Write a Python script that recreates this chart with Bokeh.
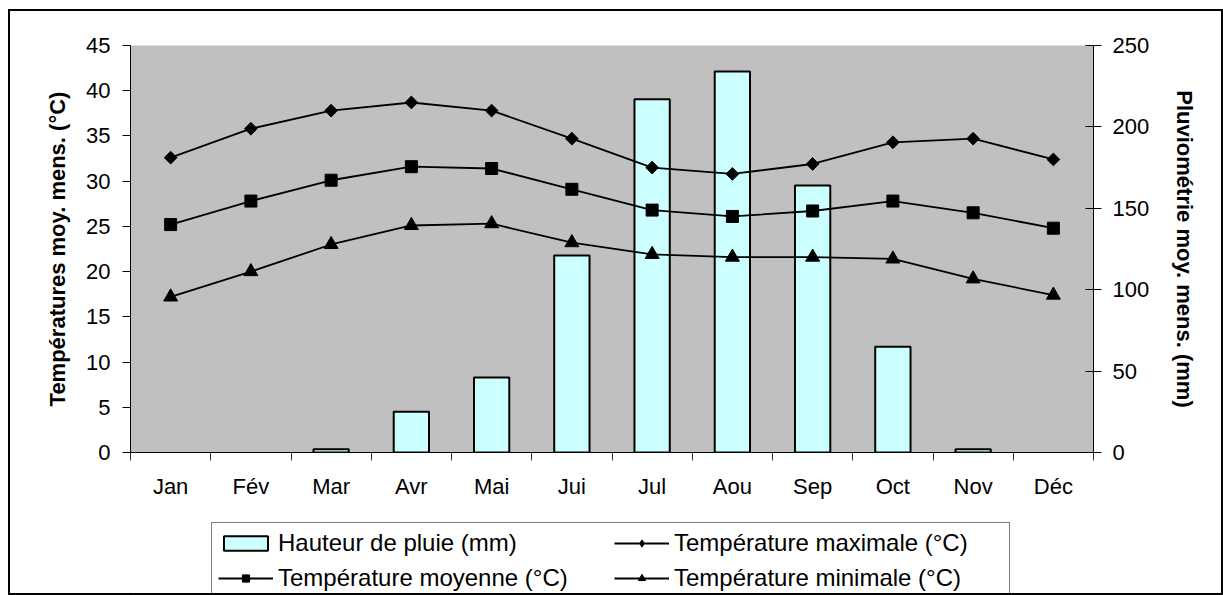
import numpy as np
from bokeh.plotting import figure
from bokeh.layouts import column
from bokeh.models import Range1d, LinearAxis, FixedTicker, Legend, LegendItem
from bokeh.embed import file_html
from bokeh.resources import INLINE

# ---- data ----
months = ["Jan", "Fév", "Mar", "Avr", "Mai", "Jui", "Jul", "Aou", "Sep", "Oct", "Nov", "Déc"]
rain = [0, 0, 2, 25, 46, 121, 217, 234, 164, 65, 2, 0]
tmax = [32.6, 35.8, 37.8, 38.7, 37.8, 34.7, 31.5, 30.8, 31.9, 34.3, 34.7, 32.4]
tmoy = [25.2, 27.8, 30.1, 31.6, 31.4, 29.1, 26.8, 26.1, 26.7, 27.8, 26.5, 24.8]
tmin = [17.2, 20.0, 23.0, 25.1, 25.3, 23.2, 21.9, 21.6, 21.6, 21.4, 19.2, 17.4]
temp_ticks = [0, 5, 10, 15, 20, 25, 30, 35, 40, 45]
rain_ticks = [0, 50, 100, 150, 200, 250]
labels = ["Hauteur de pluie (mm)", "Température moyenne (°C)",
          "Température maximale (°C)", "Température minimale (°C)"]

xs = [i + 0.5 for i in range(len(months))]
bx = [x for x, r in zip(xs, rain) if r > 0]
br = [r for r in rain if r > 0]
FONT = "Liberation Sans"

BAR = dict(fill_color="#CCFFFF", line_color="black", line_width=2)
LINE = dict(line_color="black", line_width=1.8)

p = figure(width=1211, height=490, x_range=Range1d(0, 12), y_range=Range1d(0, 45),
           output_backend="svg", toolbar_location=None,
           min_border_left=120, min_border_right=128, min_border_top=34, min_border_bottom=49,
           background_fill_color="#C0C0C0", border_fill_color="white",
           outline_line_color=None)
p.xgrid.visible = False
p.ygrid.visible = False
p.extra_y_ranges = {"rain": Range1d(0, 250)}

# x axis
xa = p.xaxis[0]
xa.ticker = FixedTicker(ticks=xs, minor_ticks=list(range(13)))
xa.major_label_overrides = {x: m for x, m in zip(xs, months)}
xa.major_tick_line_color = None
xa.major_tick_out = 8
xa.major_tick_in = 0
xa.minor_tick_out = 8
xa.minor_tick_in = 0
xa.minor_tick_line_color = "#333333"
xa.axis_line_color = "black"
xa.major_label_standoff = 13
xa.major_label_text_font = FONT
xa.major_label_text_font_size = "22px"
xa.major_label_text_color = "black"

# left axis
ya = p.yaxis[0]
ya.ticker = FixedTicker(ticks=temp_ticks)
ya.minor_tick_line_color = None
ya.major_tick_out = 8
ya.major_tick_in = 0
ya.major_label_standoff = 12
ya.axis_label = "Températures moy. mens. (°C)"
ya.axis_label_standoff = 13
ya.axis_label_text_font = FONT
ya.axis_label_text_font_style = "bold"
ya.axis_label_text_font_size = "22px"
ya.axis_label_text_color = "black"
ya.major_label_text_font = FONT
ya.major_label_text_font_size = "22px"
ya.major_label_text_color = "black"

# right axis
ra = LinearAxis(y_range_name="rain", ticker=FixedTicker(ticks=rain_ticks))
ra.minor_tick_line_color = None
ra.major_tick_out = 8
ra.major_tick_in = 8
ra.major_label_standoff = 11
ra.axis_label = "Pluviométrie moy. mens. (mm)"
ra.axis_label_standoff = 20
ra.axis_label_text_font = FONT
ra.axis_label_text_font_style = "bold"
ra.axis_label_text_font_size = "22px"
ra.axis_label_text_color = "black"
ra.major_label_text_font = FONT
ra.major_label_text_font_size = "22px"
ra.major_label_text_color = "black"
p.add_layout(ra, "right")

# bars
p.vbar(x=bx, top=br, bottom=0, width=0.44, y_range_name="rain", **BAR)

# lines
p.line(xs, tmax, **LINE)
p.scatter(xs, tmax, marker="square", angle=np.pi / 4, size=9, color="black")
p.line(xs, tmoy, **LINE)
p.scatter(xs, tmoy, marker="square", size=12, color="black")
p.line(xs, tmin, **LINE)
p.scatter(xs, tmin, marker="triangle", size=14, color="black")

# ---- legend strip (same styles, proxy glyphs placed outside the visible range) ----
q = figure(width=1211, height=92, x_range=Range1d(0, 1), y_range=Range1d(0, 1),
           x_axis_type=None, y_axis_type=None, output_backend="svg", toolbar_location=None,
           min_border=0, outline_line_color=None,
           background_fill_color="white", border_fill_color="white")
q.xgrid.visible = False
q.ygrid.visible = False
OUT = [-5]
g_bar = q.vbar(x=OUT, top=OUT, bottom=-6, width=0.1, **BAR)
g_moy = [q.line(OUT, OUT, **LINE), q.scatter(OUT, OUT, marker="square", size=12, color="black")]
g_max = [q.line(OUT, OUT, **LINE), q.scatter(OUT, OUT, marker="diamond", size=12, color="black")]
g_min = [q.line(OUT, OUT, **LINE), q.scatter(OUT, OUT, marker="triangle", size=14, color="black")]

legend = Legend(items=[
    LegendItem(label=labels[0], renderers=[g_bar]),
    LegendItem(label=labels[1], renderers=g_moy),
    LegendItem(label=labels[2], renderers=g_max),
    LegendItem(label=labels[3], renderers=g_min),
], location=(81, -6), ncols=2)
legend.border_line_color = "black"
legend.border_line_width = 1
legend.background_fill_color = "white"
legend.background_fill_alpha = 1
legend.label_text_font = FONT
legend.label_text_font_size = "24px"
legend.label_text_color = "black"
legend.glyph_width = 55
legend.glyph_height = 18
legend.label_standoff = 5
legend.label_width = 329
legend.spacing = 7
legend.padding = 6
legend.margin = 0
q.add_layout(legend, "center")

layout = column(p, q, spacing=0)
layout.styles = {"border": "2px solid black", "margin-left": "8px", "margin-top": "9px"}

open("out.html", "w").write(file_html(layout, INLINE))
